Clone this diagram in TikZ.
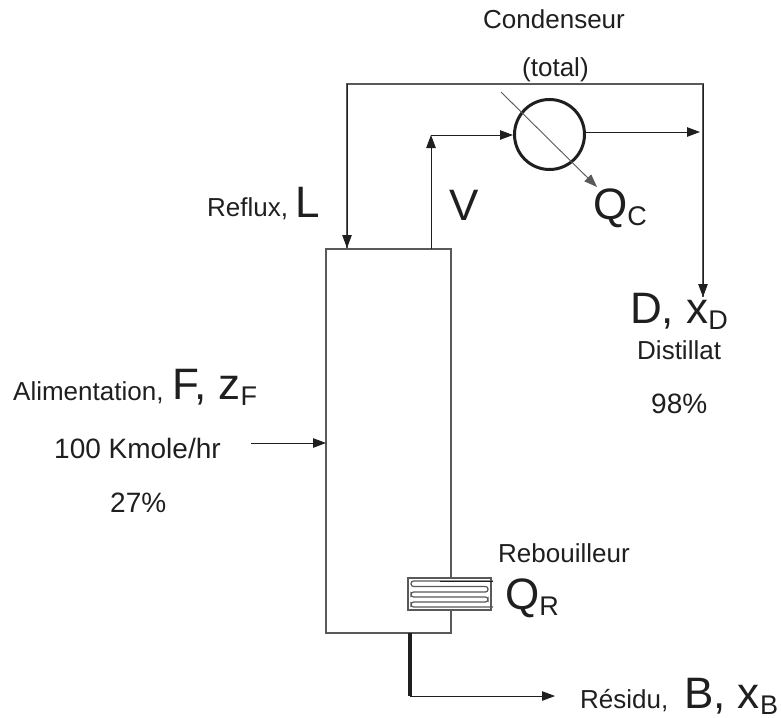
\documentclass[tikz,border=0pt]{standalone}
\usepackage{fontspec}
\setmainfont{Liberation Sans}
\usetikzlibrary{arrows.meta}
\definecolor{ink}{gray}{0.12}
\definecolor{pipe}{gray}{0.35}
\tikzset{
  x=1pt,y=-1pt,
  txt/.style={inner sep=0pt,anchor=base west,text=ink,font=\fontsize{26}{30}\selectfont},
  txtb/.style={inner sep=0pt,anchor=base west,text=ink,font=\fontsize{28}{32}\selectfont},
  big/.style={inner sep=0pt,anchor=base west,text=ink,font=\fontsize{44}{50}\selectfont},
  flow/.style={draw=ink,line width=0.9pt,-{Triangle[length=13pt,width=9.5pt]}},
  pipeline/.style={draw=pipe,line width=1.3pt},
  jn/.style={inner sep=0pt,minimum size=0pt},
}
\newcommand{\bigsub}[1]{\raisebox{-6pt}{\fontsize{27}{32}\selectfont #1}}
\begin{document}
\begin{tikzpicture}
\useasboundingbox (0,0) rectangle (781,717);
\fill[white] (0,0) rectangle (781,717);
% column
\node[jn,draw=pipe,line width=1.3pt,minimum width=125pt,minimum height=384pt] (col) at (388.5,441) {};
% condenser
\node[circle,draw=ink,line width=3pt,minimum size=70pt,inner sep=0pt] (cond) at (549.5,134.5) {};
% coordinates
\coordinate (refluxTop) at (347,84);
\coordinate (refluxEnd) at (347,248);
\coordinate (topRight) at (703,84);
\coordinate (distEnd) at (703,297);
\coordinate (vBase) at (431,249);
\coordinate (vTop) at (431,135);
\coordinate (condOut) at (585,132);
\coordinate (condOutEnd) at (700,132);
\coordinate (qIn) at (501,92);
\coordinate (qOut) at (597,187);
\coordinate (feedStart) at (251,443);
\coordinate (feedEnd) at (326,443);
\coordinate (botTop) at (410,633);
\coordinate (botCorner) at (410,696);
\coordinate (botEnd) at (555,696);
% pipes
\draw[pipeline] (distEnd) -- (topRight) -- (refluxTop) -- (refluxEnd);
\draw[flow] (topRight) -- (distEnd);
\draw[flow] (refluxTop) -- (refluxEnd);
\draw[flow] (vBase) -- (vTop);
\draw[flow] (vTop) -- (513,135);
\draw[flow] (condOut) -- (condOutEnd);
\draw[flow,draw=pipe] (qIn) -- (qOut);
\draw[flow] (feedStart) -- (feedEnd);
% bottom
\draw[draw=ink,line width=3.4pt] (botTop) -- (botCorner);
\draw[flow] (botCorner) -- (botEnd);
% reboiler
\node[jn,draw=pipe,fill=white,line width=1.3pt,minimum width=83pt,minimum height=32pt] (reb) at (449.5,594) {};
\draw[draw=pipe,line width=1.2pt,rounded corners=2.6pt]
  (493,581) -- (411,581) -- (411,586.5) -- (488,586.5) -- (488,592) -- (411,592)
  -- (411,597) -- (488,597) -- (488,602) -- (411,602) -- (411,607) -- (493,607);
\draw[draw=ink,line width=0.8pt] (440,581) -- (493,581);
% labels
\node[txt] (tc) at (483,29) {Condenseur};
\node[txt] (tt) at (522,77) {(total)};
\node[txt] (tr) at (207,216) {Reflux,};
\node[big] (tl) at (295,217) {L};
\node[big] (tv) at (449,220) {V};
\node[big] (tq) at (593,219) {Q\bigsub{C}};
\node[big] (td) at (630,323) {D, x\bigsub{D}};
\node[txt] (tdi) at (637,359) {Distillat};
\node[txtb] (t98) at (651,413) {98\%};
\node[txt] (ta) at (13,400) {Alimentation,};
\node[big] (tf) at (172,399) {F, z\bigsub{F}};
\node[txtb] (tk) at (54,458) {100 Kmole/hr};
\node[txtb] (t27) at (110,512) {27\%};
\node[txt] (tre) at (498,562) {Rebouilleur};
\node[big] (tqr) at (505,609) {Q\bigsub{R}};
\node[txt] (tres) at (580,708) {Résidu,};
\node[big] (tb) at (684,708) {B, x\bigsub{B}};
\end{tikzpicture}
\end{document}
